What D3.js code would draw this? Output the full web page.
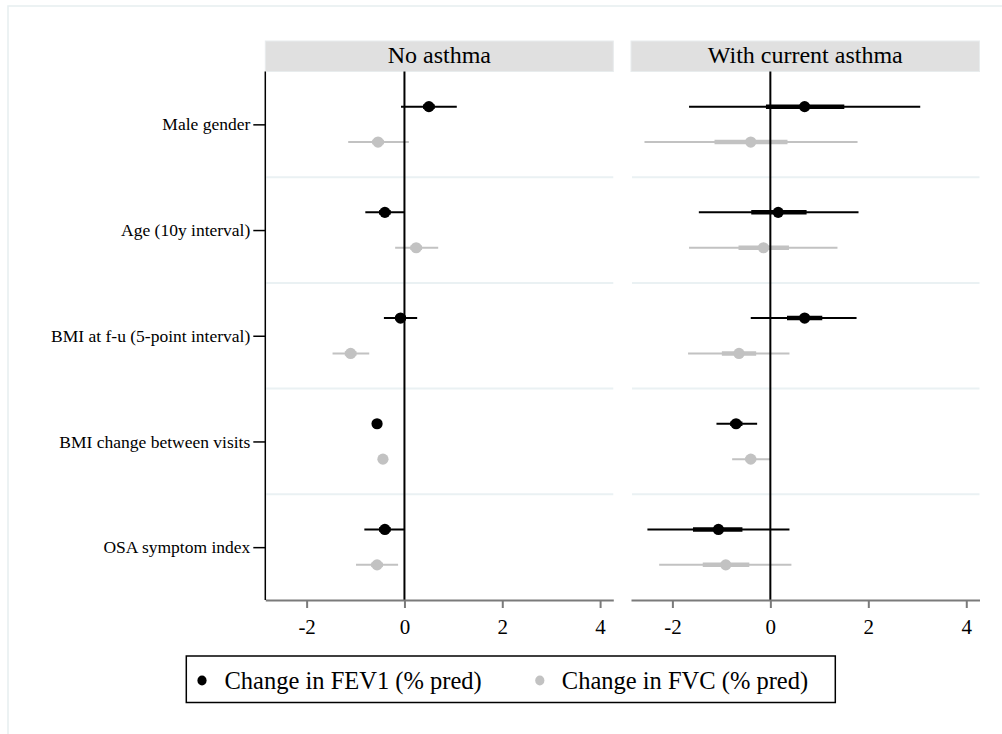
<!DOCTYPE html>
<html>
<head>
    <meta charset="utf-8">
    <style>
        body { margin: 0; background: #fff; }
        text { font-family: "Liberation Serif", "Times New Roman", serif; fill: #000; }
        line.sep { stroke: #eaf1f3; stroke-width: 2px; }
        line.zero { stroke: #000; stroke-width: 2px; }
        .xaxis path, .xaxis line { stroke: #7a7a7a; stroke-width: 2px; }
        .xaxis text { font-size: 21px; }
        .yaxis line { stroke: #000; stroke-width: 1.5px; }
        .yaxis path { stroke: #000; stroke-width: 1.5px; }
        .yaxis text { font-size: 17.5px; }
    </style>
</head>
<body>
<div id="chart"></div>
<script src="https://cdn.jsdelivr.net/npm/d3@7"></script>
<script>

    var categories = ["Male gender", "Age (10y interval)", "BMI at f-u (5-point interval)",
        "BMI change between visits", "OSA symptom index"];
    var panels = ["No asthma", "With current asthma"];
    var seriesNames = ["Change in FEV1 (% pred)", "Change in FVC (% pred)"];
    var xTicks = [-2, 0, 2, 4];

    // No asthma
    var fev1NoEst = [0.50, -0.40, -0.08, -0.56, -0.40];
    var fev1NoLo = [-0.07, -0.80, -0.42, -0.65, -0.82];
    var fev1NoHi = [1.07, 0.00, 0.26, -0.47, 0.00];
    var fev1NoLoIn = [0.38, -0.52, -0.19, -0.60, -0.52];
    var fev1NoHiIn = [0.62, -0.28, 0.03, -0.52, -0.28];

    var fvcNoEst = [-0.54, 0.24, -1.10, -0.44, -0.56];
    var fvcNoLo = [-1.15, -0.19, -1.47, -0.52, -0.99];
    var fvcNoHi = [0.09, 0.69, -0.72, -0.36, -0.13];
    var fvcNoLoIn = [-0.66, 0.12, -1.22, -0.48, -0.68];
    var fvcNoHiIn = [-0.42, 0.36, -0.98, -0.40, -0.44];

    // With current asthma
    var fev1WithEst = [0.70, 0.16, 0.70, -0.70, -1.06];
    var fev1WithLo = [-1.66, -1.46, -0.40, -1.10, -2.51];
    var fev1WithHi = [3.06, 1.80, 1.76, -0.27, 0.39];
    var fev1WithLoIn = [-0.09, -0.39, 0.34, -0.82, -1.58];
    var fev1WithHiIn = [1.51, 0.74, 1.06, -0.57, -0.57];

    var fvcWithEst = [-0.40, -0.14, -0.64, -0.40, -0.91];
    var fvcWithLo = [-2.57, -1.66, -1.68, -0.78, -2.27];
    var fvcWithHi = [1.78, 1.37, 0.39, 0.00, 0.43];
    var fvcWithLoIn = [-1.14, -0.65, -0.99, -0.51, -1.38];
    var fvcWithHiIn = [0.35, 0.38, -0.29, -0.29, -0.43];

    var colors = ["#000000", "#c2c2c2"];
    var offsets = [-17.7, 17.7];

    function rows(est, lo, hi, loIn, hiIn, s) {
        return categories.map(function (c, i) {
            return {cat: c, est: est[i], lo: lo[i], hi: hi[i], loIn: loIn[i], hiIn: hiIn[i], s: s};
        });
    }

    var panelData = [
        rows(fev1NoEst, fev1NoLo, fev1NoHi, fev1NoLoIn, fev1NoHiIn, 0)
            .concat(rows(fvcNoEst, fvcNoLo, fvcNoHi, fvcNoLoIn, fvcNoHiIn, 1)),
        rows(fev1WithEst, fev1WithLo, fev1WithHi, fev1WithLoIn, fev1WithHiIn, 0)
            .concat(rows(fvcWithEst, fvcWithLo, fvcWithHi, fvcWithLoIn, fvcWithHiIn, 1))
    ];

    var width = 1002, height = 734;
    var plotTop = 71.5, plotBottom = 600;
    var panelX = [[265.3, 613.3], [631, 979.5]];

    var svg = d3.select("#chart").append("svg")
        .attr("width", width)
        .attr("height", height);

    svg.append("rect")
        .attr("x", 8).attr("y", 6)
        .attr("width", width).attr("height", height)
        .attr("fill", "none")
        .attr("stroke", "#e6eef0")
        .attr("stroke-width", 1.5);

    var y = d3.scalePoint()
        .domain(categories)
        .range([plotTop, plotBottom])
        .padding(0.5);

    var step = y.step();

    panels.forEach(function (name, p) {
        var x = d3.scaleLinear()
            .domain([-2.845, 4.27])
            .range(panelX[p]);

        var g = svg.append("g");

        // header strip
        g.append("rect")
            .attr("x", panelX[p][0])
            .attr("y", 41)
            .attr("width", panelX[p][1] - panelX[p][0])
            .attr("height", 30.5)
            .attr("fill", "#e0e0e0")
            .attr("stroke", "#e8eced")
            .attr("stroke-width", 1);

        g.append("text")
            .attr("x", (panelX[p][0] + panelX[p][1]) / 2)
            .attr("y", 63)
            .attr("text-anchor", "middle")
            .style("font-size", "24px")
            .text(name);

        // separators between categories
        g.selectAll("line.sep")
            .data(categories.slice(1))
            .enter()
            .append("line")
            .attr("class", "sep")
            .attr("x1", panelX[p][0] + 1)
            .attr("x2", panelX[p][1])
            .attr("y1", function (d) { return y(d) - step / 2; })
            .attr("y2", function (d) { return y(d) - step / 2; });

        var data = panelData[p];

        g.selectAll("line.ci")
            .data(data)
            .enter()
            .append("line")
            .attr("class", "ci")
            .attr("x1", function (d) { return x(d.lo); })
            .attr("x2", function (d) { return x(d.hi); })
            .attr("y1", function (d) { return y(d.cat) + offsets[d.s]; })
            .attr("y2", function (d) { return y(d.cat) + offsets[d.s]; })
            .attr("stroke", function (d) { return colors[d.s]; })
            .attr("stroke-width", 2);

        g.selectAll("line.ciin")
            .data(data)
            .enter()
            .append("line")
            .attr("class", "ciin")
            .attr("x1", function (d) { return x(d.loIn); })
            .attr("x2", function (d) { return x(d.hiIn); })
            .attr("y1", function (d) { return y(d.cat) + offsets[d.s]; })
            .attr("y2", function (d) { return y(d.cat) + offsets[d.s]; })
            .attr("stroke", function (d) { return colors[d.s]; })
            .attr("stroke-width", 4.5);

        g.append("line")
            .attr("class", "zero")
            .attr("x1", x(0)).attr("x2", x(0))
            .attr("y1", plotTop).attr("y2", plotBottom);

        g.selectAll("circle.est")
            .data(data)
            .enter()
            .append("circle")
            .attr("class", "est")
            .attr("cx", function (d) { return x(d.est); })
            .attr("cy", function (d) { return y(d.cat) + offsets[d.s]; })
            .attr("r", 5.6)
            .attr("fill", function (d) { return colors[d.s]; });

        g.append("g")
            .attr("class", "xaxis")
            .attr("transform", "translate(0," + plotBottom + ")")
            .call(d3.axisBottom(x).tickValues(xTicks).tickSize(8).tickPadding(8).tickSizeOuter(0)
                .tickFormat(function (d) { return String(d); }))
            .call(function (a) { a.selectAll("text").attr("dy", "0.85em"); });

        if (p === 0) {
            g.append("g")
                .attr("class", "yaxis")
                .attr("transform", "translate(" + panelX[p][0] + ",0)")
                .call(d3.axisLeft(y).tickSize(12).tickPadding(3).tickSizeOuter(0))
                .call(function (a) { a.select("path").attr("d", "M0," + plotTop + "V" + plotBottom); });
        }
    });

    // legend
    var legend = svg.append("g");
    legend.append("rect")
        .attr("x", 186.3).attr("y", 656)
        .attr("width", 649).attr("height", 46.5)
        .attr("fill", "#fff")
        .attr("stroke", "#000")
        .attr("stroke-width", 1.5);

    var legendX = [[202, 224.5], [539.8, 561.8]];
    seriesNames.forEach(function (n, i) {
        legend.append("ellipse")
            .attr("cx", legendX[i][0]).attr("cy", 680.5)
            .attr("rx", 4.6).attr("ry", 5)
            .attr("fill", colors[i]);
        legend.append("text")
            .attr("x", legendX[i][1]).attr("y", 688.5)
            .style("font-size", "24.5px")
            .text(n);
    });

</script>
</body>
</html>
